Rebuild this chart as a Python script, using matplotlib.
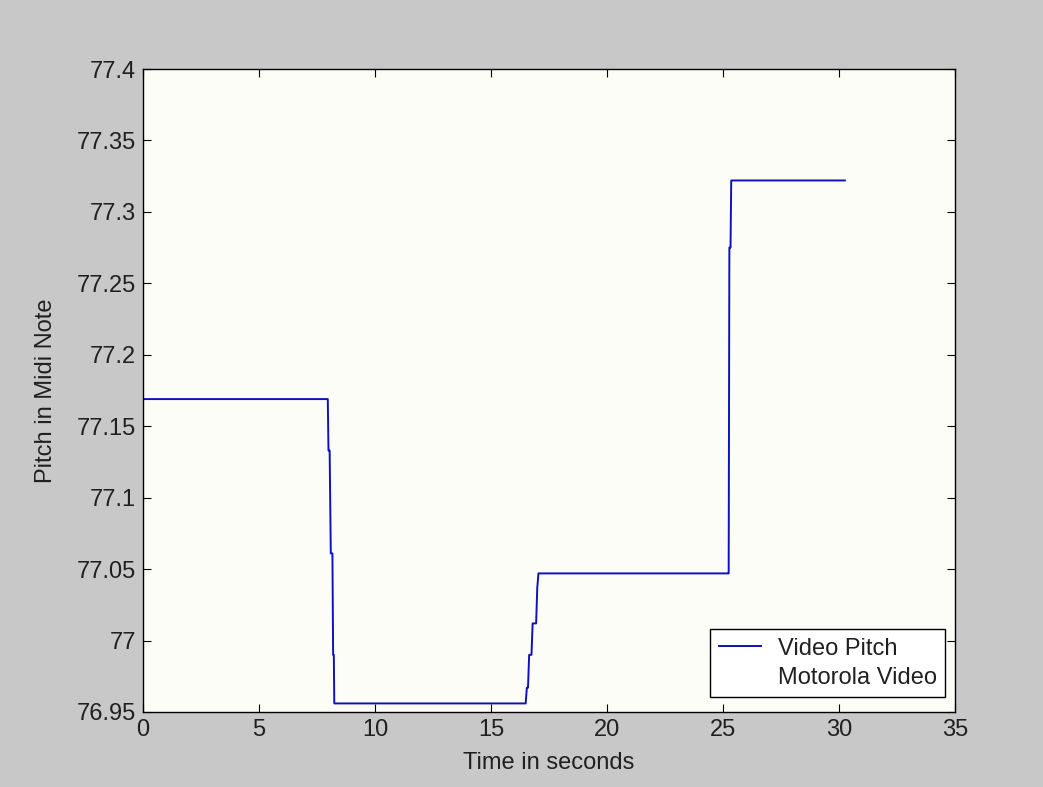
import numpy as np
import matplotlib
matplotlib.use("Agg")
import matplotlib.pyplot as plt
from matplotlib.ticker import FuncFormatter

# corner points of the stepped pitch trace
time = [0, 7.97, 8.0, 8.05, 8.1, 8.17, 8.2, 8.23, 8.25,
        16.5, 16.55, 16.6, 16.65, 16.75, 16.8, 16.95, 17.0, 17.05,
        25.2, 25.25, 25.28, 25.33, 25.36, 25.4, 30.26]
pitch = [77.169, 77.169, 77.133, 77.133, 77.061, 77.061, 76.990, 76.990, 76.956,
         76.956, 76.967, 76.967, 76.990, 76.990, 77.012, 77.012, 77.037, 77.047,
         77.047, 77.047, 77.275, 77.275, 77.322, 77.322, 77.322]

x_ticks = np.arange(0, 36, 5)
y_ticks = [76.95, 77.0, 77.05, 77.1, 77.15, 77.2, 77.25, 77.3, 77.35, 77.4]

plt.rcParams['font.family'] = ['Liberation Sans', 'DejaVu Sans']

fig = plt.figure(figsize=(10.43, 7.87), dpi=100, facecolor='#c8c8c8')
ax = fig.add_axes([0.137, 0.0953, 0.7785, 0.817], facecolor='#fdfdf8')

ax.plot(time, pitch, color='#1010c0', lw=1.4, label='Video Pitch')
ax.plot([], [], color='none', label='Motorola Video')

ax.set_xlim(0, 35)
ax.set_ylim(76.95, 77.4)
ax.set_xticks(x_ticks)
ax.set_yticks(y_ticks)
ax.yaxis.set_major_formatter(FuncFormatter(lambda v, p: ('%.2f' % v).rstrip('0').rstrip('.')))
ax.tick_params(direction='in', length=6, top=True, right=True, labelsize=17,
               pad=5, labelcolor='#202020')
for s in ax.spines.values():
    s.set_linewidth(1.0)

ax.set_xlabel("Time in seconds", fontsize=17, labelpad=8, color='#202020')
ax.set_ylabel("Pitch in Midi Note", fontsize=17, labelpad=14, color='#202020')

leg = ax.legend(loc='lower right', bbox_to_anchor=(0.9877, 0.0233),
                fontsize=17, fancybox=False, framealpha=1,
                edgecolor='black', borderaxespad=0, handlelength=1.8,
                handletextpad=0.7, labelspacing=0.3, borderpad=0.35)
leg.get_frame().set_linewidth(1.0)
for t in leg.get_texts():
    t.set_color('#202020')

fig.savefig("out.png", dpi=100, facecolor=fig.get_facecolor())
